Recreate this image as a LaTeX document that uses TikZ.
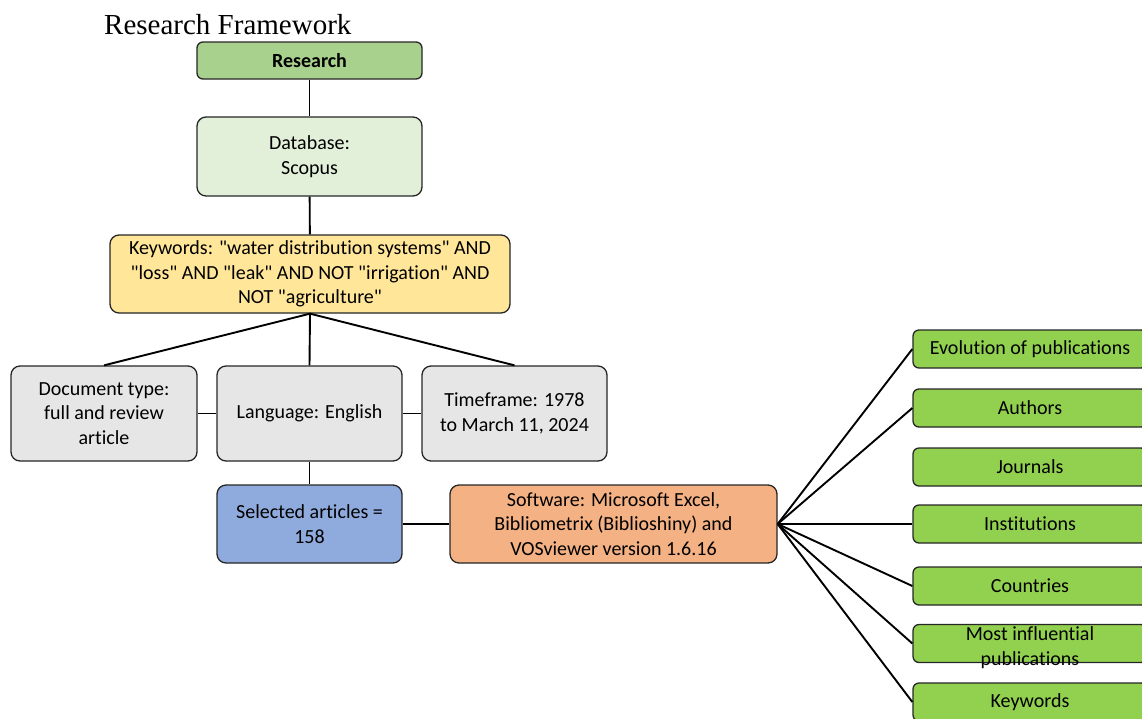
\documentclass[tikz,border=0pt]{standalone}
\usepackage{fontspec}
\setmainfont{Carlito}[Ligatures={TeXOff,NoCommon}]
\newfontfamily\titlefont{Liberation Serif}
\definecolor{rschgreen}{HTML}{A9D18E}
\definecolor{dbgreen}{HTML}{E2F0D9}
\definecolor{kwyellow}{HTML}{FFE699}
\definecolor{critgray}{HTML}{E7E6E6}
\definecolor{selblue}{HTML}{8FAADC}
\definecolor{softorange}{HTML}{F4B183}
\definecolor{outgreen}{HTML}{92D050}
\begin{document}
\begin{tikzpicture}[x=1pt,y=-1pt,
  box/.style={draw=black!85,line width=1.3pt,rounded corners=9pt,align=center,inner sep=0pt,
    font=\fontsize{20}{24.5}\selectfont},
  outbox/.style={box,rounded corners=6pt,fill=outgreen,minimum width=234pt,minimum height=38pt},
  link/.style={line width=1.9pt}]
\useasboundingbox (0,0) rectangle (1142,718);
\clip (0,0) rectangle (1142,718);
\node[anchor=base west,font=\titlefont\fontsize{29}{34}\selectfont,inner sep=0pt] (title) at (104,34) {Research Framework};
\node[box,rounded corners=6pt,fill=rschgreen,minimum width=225pt,minimum height=37pt] (rsch) at (309.5,60.5) {\textbf{Research}};
\node[box,fill=dbgreen,minimum width=225pt,minimum height=79pt] (db) at (309.5,156.5) {Database:\\Scopus};
\node[box,fill=kwyellow,minimum width=400pt,minimum height=78pt] (kw) at (310,274) {Keywords: "water distribution systems" AND\\"loss" AND "leak" AND NOT "irrigation" AND\\NOT "agriculture"};
\node[box,fill=critgray,minimum width=186pt,minimum height=95pt] (doc) at (104,413.5) {Document type:\\full and review\\article};
\node[box,fill=critgray,minimum width=185pt,minimum height=95pt] (lang) at (309.5,413.5) {Language: English};
\node[box,fill=critgray,minimum width=185pt,minimum height=95pt] (time) at (514.5,413.5) {Timeframe: 1978\\to March 11, 2024};
\node[box,fill=selblue,minimum width=185pt,minimum height=78pt] (sel) at (309.5,524) {Selected articles =\\158};
\node[box,fill=softorange,minimum width=327pt,minimum height=78pt] (soft) at (613.5,524) {Software: Microsoft Excel,\\Bibliometrix (Biblioshiny) and\\VOSviewer version 1.6.16};
% analyses
\node[outbox] (evol) at (1030,349) {Evolution of publications};
\node[outbox] (auth) at (1030,408) {Authors};
\node[outbox] (jour) at (1030,467) {Journals};
\node[outbox] (inst) at (1030,524) {Institutions};
\node[outbox] (ctry) at (1030,586) {Countries};
\node[outbox] (infl) at (1030,643.5) {};
\node[font=\fontsize{20}{24.5}\selectfont,align=center,inner sep=0pt] (infltext) at ([yshift=-4pt]infl.center) {Most influential\\publications};
\node[outbox] (kwds) at (1030,702) {Keywords};
\draw[link] (rsch)--(db);
\draw[link] (db)--(kw);
\foreach \n in {doc,lang,time}{\draw[link] (kw.south)--(\n.north);}
\draw[link] (doc)--(lang);
\draw[link] (lang)--(time);
\draw[link] (lang)--(sel);
\draw[link] (sel)--(soft);
\foreach \n in {evol,auth,inst,ctry,infl,kwds}{\draw[link] (soft.east)--(\n.west);}
\end{tikzpicture}
\end{document}
